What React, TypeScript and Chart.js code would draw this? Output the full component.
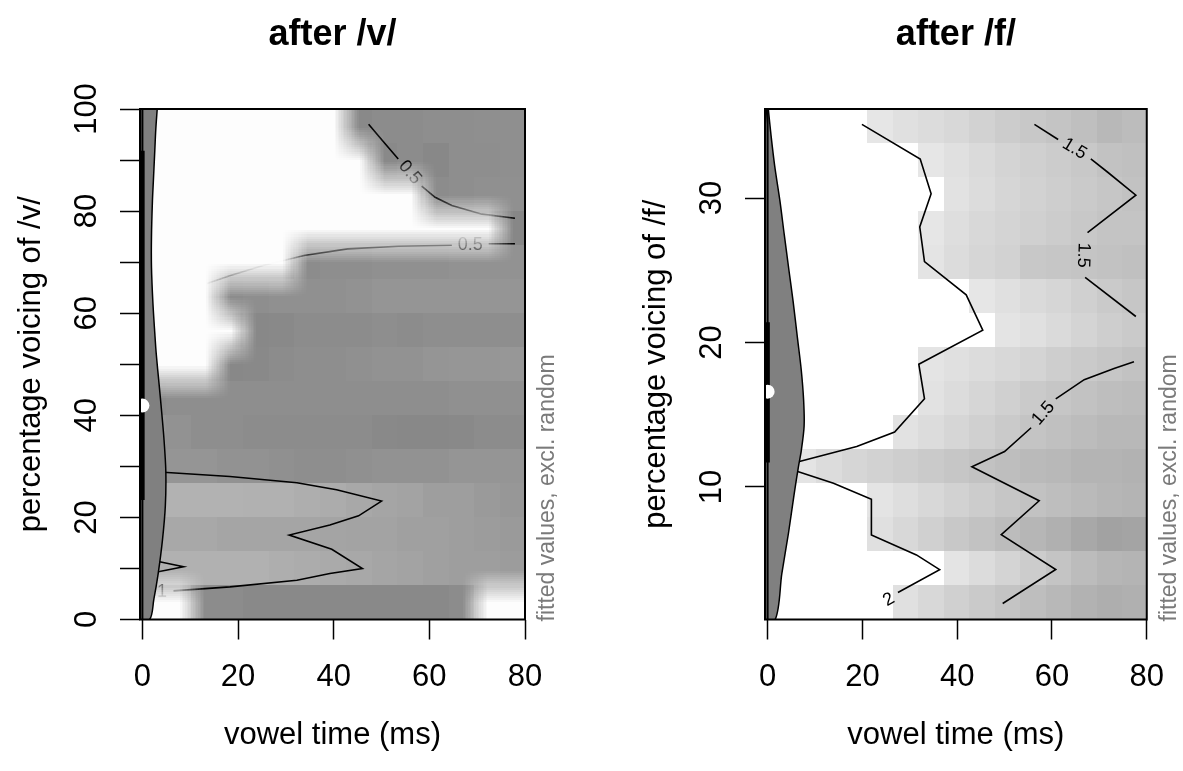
import React, { useEffect, useRef } from 'react';
import { Chart, registerables } from 'chart.js';

Chart.register(...registerables);

const FONT = "'Liberation Sans', Arial, Helvetica, sans-serif";

// ---------------- axis ticks ----------------
const timeTicks = [0, 20, 40, 60, 80];
const vTicks = [0, 10, 20, 30, 40, 50, 60, 70, 80, 90, 100];
const vTickLabels = ['0', '', '20', '', '40', '', '60', '', '80', '', '100'];
const fTicks = [10, 20, 30];
const fTickLabels = ['10', '20', '30'];

// ---------------- fitted surface after /v/ (rows: top -> bottom; cols: time left -> right) ----------------
const vFitted = [
  [0.75, 0.75, 0.75, 0.75, 0.75, 0.75, 0.75, 0.75, 0.81, 0.83, 0.83, 0.84, 0.84, 0.85, 0.85],
  [0.75, 0.75, 0.75, 0.75, 0.75, 0.75, 0.75, 0.75, 0.75, 0.81, 0.83, 0.80, 0.84, 0.84, 0.85],
  [0.75, 0.75, 0.75, 0.75, 0.75, 0.75, 0.75, 0.75, 0.75, 0.75, 0.75, 0.83, 0.84, 0.86, 0.86],
  [0.75, 0.75, 0.75, 0.75, 0.75, 0.75, 0.75, 0.75, 0.75, 0.75, 0.75, 0.75, 0.75, 0.75, 0.79],
  [0.75, 0.75, 0.75, 0.75, 0.75, 0.75, 0.83, 0.84, 0.84, 0.86, 0.86, 0.86, 0.87, 0.87, 0.87],
  [0.75, 0.75, 0.75, 0.83, 0.84, 0.86, 0.86, 0.86, 0.87, 0.89, 0.89, 0.89, 0.89, 0.89, 0.89],
  [0.75, 0.75, 0.75, 0.75, 0.80, 0.81, 0.83, 0.83, 0.83, 0.84, 0.83, 0.84, 0.84, 0.84, 0.84],
  [0.78, 0.78, 0.78, 0.80, 0.81, 0.83, 0.84, 0.84, 0.86, 0.87, 0.87, 0.89, 0.90, 0.90, 0.91],
  [0.83, 0.84, 0.84, 0.84, 0.84, 0.84, 0.84, 0.84, 0.84, 0.84, 0.84, 0.84, 0.86, 0.86, 0.86],
  [0.89, 0.87, 0.84, 0.84, 0.83, 0.83, 0.83, 0.83, 0.83, 0.81, 0.80, 0.80, 0.81, 0.83, 0.83],
  [0.89, 0.89, 0.89, 0.87, 0.87, 0.86, 0.84, 0.84, 0.86, 0.87, 0.87, 0.87, 0.89, 0.89, 0.89],
  [1.09, 1.10, 1.10, 1.10, 1.09, 1.09, 1.07, 1.06, 1.03, 1.01, 0.99, 0.96, 0.96, 0.93, 0.91],
  [1.03, 1.03, 1.03, 1.01, 1.01, 1.01, 1.01, 1.00, 0.99, 0.99, 0.97, 0.97, 0.96, 0.94, 0.93],
  [1.09, 1.09, 1.09, 1.09, 1.09, 1.07, 1.06, 1.04, 1.03, 1.01, 0.99, 0.97, 0.96, 0.96, 0.94],
  [0.90, 0.90, 0.83, 0.83, 0.81, 0.81, 0.81, 0.81, 0.81, 0.81, 0.81, 0.81, 0.83, 0.90, 0.90],
];

// 1 = not significant (masked in white)
const vNotSignificant = [
  [1, 1, 1, 1, 1, 1, 1, 1, 0, 0, 0, 0, 0, 0, 0],
  [1, 1, 1, 1, 1, 1, 1, 1, 1, 0, 0, 0, 0, 0, 0],
  [1, 1, 1, 1, 1, 1, 1, 1, 1, 1, 1, 0, 0, 0, 0],
  [1, 1, 1, 1, 1, 1, 1, 1, 1, 1, 1, 1, 1, 1, 0],
  [1, 1, 1, 1, 1, 1, 0, 0, 0, 0, 0, 0, 0, 0, 0],
  [1, 1, 1, 0, 0, 0, 0, 0, 0, 0, 0, 0, 0, 0, 0],
  [1, 1, 1, 1, 0, 0, 0, 0, 0, 0, 0, 0, 0, 0, 0],
  [1, 1, 1, 0, 0, 0, 0, 0, 0, 0, 0, 0, 0, 0, 0],
  [0, 0, 0, 0, 0, 0, 0, 0, 0, 0, 0, 0, 0, 0, 0],
  [0, 0, 0, 0, 0, 0, 0, 0, 0, 0, 0, 0, 0, 0, 0],
  [0, 0, 0, 0, 0, 0, 0, 0, 0, 0, 0, 0, 0, 0, 0],
  [0, 0, 0, 0, 0, 0, 0, 0, 0, 0, 0, 0, 0, 0, 0],
  [0, 0, 0, 0, 0, 0, 0, 0, 0, 0, 0, 0, 0, 0, 0],
  [0, 0, 0, 0, 0, 0, 0, 0, 0, 0, 0, 0, 0, 0, 0],
  [1, 1, 0, 0, 0, 0, 0, 0, 0, 0, 0, 0, 0, 1, 1],
];

// ---------------- fitted surface after /f/ ----------------
const fFitted = [
  [2.20, 2.20, 2.15, 2.10, 1.94, 1.88, 1.83, 1.79, 1.72, 1.66, 1.61, 1.57, 1.51, 1.43, 1.48],
  [2.20, 2.20, 2.20, 2.15, 2.10, 2.05, 1.94, 1.88, 1.81, 1.74, 1.70, 1.66, 1.61, 1.54, 1.52],
  [2.20, 2.20, 2.20, 2.20, 2.15, 2.10, 2.05, 1.90, 1.83, 1.77, 1.72, 1.68, 1.63, 1.59, 1.54],
  [2.20, 2.20, 2.20, 2.15, 2.10, 2.05, 1.94, 1.86, 1.79, 1.74, 1.70, 1.66, 1.61, 1.57, 1.57],
  [2.20, 2.20, 2.20, 2.15, 2.10, 2.05, 1.92, 1.83, 1.77, 1.72, 1.61, 1.59, 1.57, 1.54, 1.52],
  [2.25, 2.25, 2.20, 2.20, 2.15, 2.10, 2.05, 2.02, 1.94, 1.88, 1.81, 1.77, 1.70, 1.63, 1.59],
  [2.25, 2.25, 2.20, 2.20, 2.20, 2.15, 2.10, 2.05, 2.02, 1.92, 1.88, 1.81, 1.74, 1.68, 1.63],
  [2.20, 2.20, 2.15, 2.10, 2.05, 2.02, 1.92, 1.88, 1.83, 1.79, 1.74, 1.68, 1.63, 1.59, 1.54],
  [2.20, 2.20, 2.15, 2.10, 2.05, 2.02, 1.90, 1.83, 1.77, 1.70, 1.63, 1.59, 1.54, 1.50, 1.48],
  [2.15, 2.15, 2.10, 2.05, 2.02, 1.90, 1.83, 1.77, 1.70, 1.63, 1.57, 1.52, 1.48, 1.43, 1.43],
  [1.94, 1.92, 1.83, 1.77, 1.72, 1.68, 1.63, 1.59, 1.54, 1.50, 1.46, 1.43, 1.39, 1.39, 1.37],
  [2.15, 2.10, 2.05, 2.02, 1.92, 1.86, 1.79, 1.72, 1.66, 1.59, 1.54, 1.50, 1.46, 1.41, 1.39],
  [2.15, 2.10, 2.05, 2.02, 1.88, 1.79, 1.70, 1.61, 1.54, 1.48, 1.41, 1.34, 1.26, 1.19, 1.21],
  [2.20, 2.20, 2.15, 2.10, 2.05, 2.05, 2.02, 1.92, 1.83, 1.74, 1.66, 1.57, 1.48, 1.41, 1.39],
  [2.20, 2.15, 2.10, 2.05, 2.02, 1.88, 1.79, 1.70, 1.63, 1.57, 1.50, 1.43, 1.37, 1.32, 1.34],
];

// ---------------- contour lines [time, voicing] ----------------
const vContourUpperA = [[47.3, 97.0], [50.4, 93.6], [53.5, 90.2]];
const vContourUpperB = [[58.4, 84.9], [61.2, 82.7], [64.7, 81.1], [71.0, 79.4], [77.9, 78.6]];
const vContourLowerA = [[13.5, 65.8], [18.4, 67.4], [25.4, 69.4], [33.8, 71.3], [42.9, 72.6], [53.5, 73.1], [64.7, 73.3]];
const vContourLowerB = [[72.4, 73.6], [77.9, 73.6]];
const vContourOne = [[0, 28.9], [5.2, 28.8], [18.3, 28.0], [32.3, 26.8], [40.6, 25.4], [50.0, 23.2], [45.2, 20.3], [39.2, 18.5], [30.7, 16.55], [39.6, 13.75], [46.0, 10.0], [39.2, 9.0], [32.3, 7.7], [18.3, 6.4], [6.5, 5.6]];
const vContourOneLoop = [[0, 11.6], [3.6, 11.3], [8.6, 10.35], [3.6, 9.4], [0, 9.1]];

const fContourTwo = [[19.9, 35.1], [32.2, 32.7], [34.5, 30.3], [32.1, 28.0], [33.1, 25.6], [41.9, 23.3], [45.4, 20.85], [31.9, 18.5], [33.1, 16.1], [26.8, 13.8], [18.8, 12.8], [6.5, 11.75], [3.0, 11.4], [6.5, 11.06], [13.9, 10.26], [21.9, 9.15], [21.9, 6.68], [31.4, 5.3], [36.3, 4.28], [27.5, 2.7]];
const fContourUpperA = [[56.3, 35.1], [61.3, 34.05]];
const fContourUpperB = [[68.2, 32.7], [71.7, 31.8], [77.7, 30.2], [67.5, 27.6]];
const fContourUpperC = [[67.0, 24.5], [77.7, 21.8]];
const fContourLowerA = [[49.6, 1.94], [60.8, 4.29], [49.3, 6.7], [57.3, 9.05], [43.1, 11.4], [50.0, 12.45], [55.6, 14.1]];
const fContourLowerB = [[60.8, 16.1], [66.8, 17.43], [73.1, 18.2], [77.3, 18.67]];

const vContourLabels = [
  { x: 55.95, y: 87.55, text: '0.5', angle: 49 },
  { x: 68.55, y: 73.45, text: '0.5', angle: 0 },
  { x: 4.1, y: 5.45, text: '1', angle: 0 },
];
const fContourLabels = [
  { x: 64.75, y: 33.4, text: '1.5', angle: 31 },
  { x: 66.6, y: 26.05, text: '1.5', angle: 92 },
  { x: 58.2, y: 15.1, text: '1.5', angle: -49 },
  { x: 25.6, y: 2.2, text: '2', angle: -30 },
];

// ---------------- violin (density half-width in ms) and box stats ----------------
const vViolinY = [100, 96, 92, 86, 82, 75, 69, 62, 56, 52, 46, 42, 35.5, 29, 22.3, 15.6, 9, 4, 0];
const vViolinW = [3.1, 2.8, 2.6, 2.3, 2.1, 1.9, 1.9, 2.2, 2.6, 2.9, 3.5, 3.9, 4.5, 4.9, 4.8, 4.2, 3.3, 2.4, 1.5];
const fViolinY = [36.16, 34.4, 32.2, 29.8, 27.5, 25, 22.8, 20.3, 18.1, 16, 14.2, 12.5, 11.4, 9.5, 6.8, 4, 0.83];
const fViolinW = [0.15, 0.7, 1.5, 2.6, 3.5, 4.5, 5.4, 6.3, 7.1, 7.6, 7.7, 7.1, 6.5, 5.6, 4.4, 3.0, 1.6];
const vBoxStats = [0, 23.4, 41.9, 91.8, 100];
const fBoxStats = [0.83, 11.7, 16.6, 21.4, 36.16];

// ---------------- layout ----------------
const H = 771;
const AREA_TOP = 109;
const AREA_BOTTOM = 619.5;

type Label = { x: number; y: number; text: string; angle: number };
type Spec = {
  title: string;
  yTitle: string;
  xRange: number[];
  yRange: number[];
  gridX: number[];
  yTicks: number[];
  yTickLabels: string[];
  fitted: number[][];
  hidden: number[][] | null;
  shade: (z: number) => number;
  contours: number[][][];
  labels: Label[];
  violinY: number[];
  violinW: number[];
  box: number[];
  canvasLeft: number;
  canvasWidth: number;
  areaLeft: number;
  areaRight: number;
};

const clamp = (v: number) => Math.max(0, Math.min(255, Math.round(v)));
const vShade = (z: number) => clamp(136 + (z - 0.8) * 140);
const fShade = (z: number) => (z >= 2 ? 255 : clamp(190 + (z - 1.5) * 90));

const specs: Spec[] = [
  {
    title: 'after /v/',
    yTitle: 'percentage voicing of /v/',
    xRange: [-0.5, 80],
    yRange: [0, 100],
    gridX: [-0.5, 80.2],
    yTicks: vTicks,
    yTickLabels: vTickLabels,
    fitted: vFitted,
    hidden: vNotSignificant,
    shade: vShade,
    contours: [vContourUpperA, vContourUpperB, vContourLowerA, vContourLowerB, vContourOne, vContourOneLoop],
    labels: vContourLabels,
    violinY: vViolinY,
    violinW: vViolinW,
    box: vBoxStats,
    canvasLeft: 0,
    canvasWidth: 591,
    areaLeft: 140,
    areaRight: 525,
  },
  {
    title: 'after /f/',
    yTitle: 'percentage voicing of /f/',
    xRange: [-0.55, 80],
    yRange: [0.83, 36.16],
    gridX: [-0.55, 80.2],
    yTicks: fTicks,
    yTickLabels: fTickLabels,
    fitted: fFitted,
    hidden: null,
    shade: fShade,
    contours: [fContourTwo, fContourUpperA, fContourUpperB, fContourUpperC, fContourLowerA, fContourLowerB],
    labels: fContourLabels,
    violinY: fViolinY,
    violinW: fViolinW,
    box: fBoxStats,
    canvasLeft: 591,
    canvasWidth: 592,
    areaLeft: 174,
    areaRight: 557.5,
  },
];

function clipArea(ctx: CanvasRenderingContext2D, a: any) {
  ctx.beginPath();
  ctx.rect(a.left, a.top, a.right - a.left, a.bottom - a.top);
  ctx.clip();
}

function makePlugin(spec: Spec) {
  const nC = spec.contours.length;
  return {
    id: 'panelDecor',
    beforeDatasetsDraw(chart: any) {
      const { ctx, chartArea: a, scales } = chart;
      const xs = scales.x;
      const ys = scales.y;
      const nr = spec.fitted.length;
      const nc = spec.fitted[0].length;
      const [gx0, gx1] = spec.gridX;
      const [gy0, gy1] = spec.yRange;
      ctx.save();
      clipArea(ctx, a);
      for (let r = 0; r < nr; r++) {
        for (let c = 0; c < nc; c++) {
          const xa = gx0 + ((gx1 - gx0) * c) / nc;
          const xb = gx0 + ((gx1 - gx0) * (c + 1)) / nc;
          const yt = gy1 - ((gy1 - gy0) * r) / nr;
          const yb = gy1 - ((gy1 - gy0) * (r + 1)) / nr;
          const p0 = Math.round(xs.getPixelForValue(xa));
          const p1 = Math.round(xs.getPixelForValue(xb));
          const q0 = Math.round(ys.getPixelForValue(yt));
          const q1 = Math.round(ys.getPixelForValue(yb));
          const g = spec.shade(spec.fitted[r][c]);
          ctx.fillStyle = `rgb(${g},${g},${g})`;
          ctx.fillRect(p0, q0, p1 - p0, q1 - q0);
        }
      }
      ctx.restore();
    },
    afterDatasetDraw(chart: any, args: any) {
      if (args.index !== nC - 1) return;
      const { ctx, chartArea: a, scales } = chart;
      const xs = scales.x;
      const ys = scales.y;
      // contour labels
      ctx.save();
      clipArea(ctx, a);
      ctx.fillStyle = '#000';
      ctx.font = `18px ${FONT}`;
      ctx.textAlign = 'center';
      ctx.textBaseline = 'middle';
      for (const l of spec.labels) {
        ctx.save();
        ctx.translate(xs.getPixelForValue(l.x), ys.getPixelForValue(l.y));
        ctx.rotate((l.angle * Math.PI) / 180);
        ctx.fillText(l.text, 0, 0);
        ctx.restore();
      }
      ctx.restore();
      // non-significance mask (interpolated raster)
      if (spec.hidden) {
        const nr = spec.hidden.length;
        const nc = spec.hidden[0].length;
        const m = document.createElement('canvas');
        m.width = nc + 2;
        m.height = nr + 2;
        const mc = m.getContext('2d')!;
        const img = mc.createImageData(nc + 2, nr + 2);
        for (let r = 0; r < nr + 2; r++) {
          for (let c = 0; c < nc + 2; c++) {
            const rr = Math.min(nr - 1, Math.max(0, r - 1));
            const cc = Math.min(nc - 1, Math.max(0, c - 1));
            const i = (r * (nc + 2) + c) * 4;
            img.data[i] = 255;
            img.data[i + 1] = 255;
            img.data[i + 2] = 255;
            img.data[i + 3] = spec.hidden[rr][cc] ? 251 : 0;
          }
        }
        mc.putImageData(img, 0, 0);
        const [gx0, gx1] = spec.gridX;
        const [gy0, gy1] = spec.yRange;
        const p0 = xs.getPixelForValue(gx0);
        const p1 = xs.getPixelForValue(gx1);
        const q0 = ys.getPixelForValue(gy1);
        const q1 = ys.getPixelForValue(gy0);
        ctx.save();
        clipArea(ctx, a);
        ctx.imageSmoothingEnabled = true;
        ctx.imageSmoothingQuality = 'low';
        ctx.drawImage(m, 1, 1, nc, nr, p0, q0, p1 - p0, q1 - q0);
        ctx.restore();
      }
    },
    afterDatasetsDraw(chart: any) {
      const { ctx, chartArea: a, scales } = chart;
      const xs = scales.x;
      const ys = scales.y;
      const x0 = xs.getPixelForValue(0);
      const [lo, q1, med, q3, hi] = spec.box;
      ctx.save();
      ctx.strokeStyle = '#000';
      ctx.lineCap = 'butt';
      ctx.lineWidth = 2;
      ctx.beginPath();
      ctx.moveTo(x0, ys.getPixelForValue(lo));
      ctx.lineTo(x0, ys.getPixelForValue(hi));
      ctx.stroke();
      ctx.lineWidth = 4.5;
      ctx.beginPath();
      ctx.moveTo(x0, ys.getPixelForValue(q1));
      ctx.lineTo(x0, ys.getPixelForValue(q3));
      ctx.stroke();
      ctx.fillStyle = '#fff';
      ctx.beginPath();
      ctx.arc(x0, ys.getPixelForValue(med), 7, 0, Math.PI * 2);
      ctx.fill();
      // plot box
      ctx.lineWidth = 2;
      ctx.strokeStyle = '#000';
      ctx.strokeRect(a.left, a.top, a.right - a.left, a.bottom - a.top);
      // y tick labels (parallel to axis)
      ctx.fillStyle = '#000';
      ctx.font = `31px ${FONT}`;
      ctx.textAlign = 'center';
      ctx.textBaseline = 'middle';
      spec.yTicks.forEach((v, i) => {
        const t = spec.yTickLabels[i];
        if (!t) return;
        ctx.save();
        ctx.translate(a.left - 53, ys.getPixelForValue(v));
        ctx.rotate(-Math.PI / 2);
        ctx.fillText(t, 0, 0);
        ctx.restore();
      });
      // side note
      ctx.fillStyle = '#7a7a7a';
      ctx.font = `23px ${FONT}`;
      ctx.textAlign = 'left';
      ctx.save();
      ctx.translate(a.right + 23, a.bottom + 2);
      ctx.rotate(-Math.PI / 2);
      ctx.fillText('fitted values, excl. random', 0, 0);
      ctx.restore();
      ctx.restore();
    },
  };
}

function buildConfig(spec: Spec): any {
  const datasets: any[] = spec.contours.map((seg, i) => ({
    label: 'contour',
    data: seg.map((p) => ({ x: p[0], y: p[1] })),
    borderColor: '#000',
    borderWidth: 1.6,
    pointRadius: 0,
    fill: false,
    tension: 0,
    order: 100 - i,
  }));
  const rightEdge = spec.violinY.map((y, i) => ({ x: spec.violinW[i], y }));
  const leftEdge = spec.violinY.map((y, i) => ({ x: -spec.violinW[i], y })).reverse();
  datasets.push({
    label: 'violin',
    data: [...rightEdge, ...leftEdge, rightEdge[0]],
    borderColor: '#000',
    borderWidth: 1.5,
    backgroundColor: '#808080',
    fill: 'shape',
    pointRadius: 0,
    tension: 0.3,
    order: 1,
    clip: 0,
  });
  const axisFont = { family: FONT, size: 31 };
  const yTitleCenter = spec.areaLeft - 109;
  return {
    type: 'line',
    data: { datasets },
    options: {
      animation: false,
      responsive: false,
      devicePixelRatio: 1,
      events: [],
      layout: { padding: { left: 0, top: 0, bottom: 0, right: spec.canvasWidth - spec.areaRight } },
      plugins: {
        legend: { display: false },
        tooltip: { enabled: false },
        title: {
          display: true,
          text: spec.title,
          fullSize: false,
          color: '#000',
          font: { family: FONT, size: 36, weight: 'bold', lineHeight: 1.2 },
          padding: { top: 13.4, bottom: AREA_TOP - 13.4 - 43.2 },
        },
      },
      scales: {
        x: {
          type: 'linear',
          position: 'bottom',
          min: spec.xRange[0],
          max: spec.xRange[1],
          afterBuildTicks: (s: any) => {
            s.ticks = timeTicks.map((v) => ({ value: v }));
          },
          afterFit: (s: any) => {
            s.height = H - AREA_BOTTOM;
          },
          grid: { drawOnChartArea: false, drawTicks: true, tickLength: 20, tickColor: '#000', tickWidth: 1.5 },
          border: { display: false },
          ticks: { color: '#000', font: axisFont, padding: 19, maxRotation: 0, autoSkip: false },
          title: { display: true, text: 'vowel time (ms)', color: '#000', font: axisFont, padding: { top: 0, bottom: 17.4 } },
        },
        y: {
          type: 'linear',
          position: 'left',
          min: spec.yRange[0],
          max: spec.yRange[1],
          afterBuildTicks: (s: any) => {
            s.ticks = spec.yTicks.map((v) => ({ value: v }));
          },
          afterFit: (s: any) => {
            s.width = spec.areaLeft;
          },
          grid: { drawOnChartArea: false, drawTicks: true, tickLength: 20, tickColor: '#000', tickWidth: 1.5 },
          border: { display: false },
          ticks: { display: false },
          title: { display: true, text: spec.yTitle, color: '#000', font: axisFont, padding: { top: yTitleCenter - 18.6, bottom: 0 } },
        },
      },
    },
    plugins: [makePlugin(spec)],
  };
}

function Panel({ spec }: { spec: Spec }) {
  const ref = useRef<HTMLCanvasElement>(null);
  useEffect(() => {
    const canvas = ref.current;
    if (!canvas) return;
    const chart = new Chart(canvas, buildConfig(spec));
    return () => chart.destroy();
  }, [spec]);
  return (
    <canvas
      ref={ref}
      width={spec.canvasWidth}
      height={H}
      style={{ position: 'absolute', left: spec.canvasLeft, top: 0, width: spec.canvasWidth, height: H }}
    />
  );
}

export default function App() {
  return (
    <div style={{ position: 'fixed', left: 0, top: 0, width: 1183, height: H, background: '#fff', overflow: 'hidden' }}>
      {specs.map((s, i) => (
        <Panel key={i} spec={s} />
      ))}
    </div>
  );
}
